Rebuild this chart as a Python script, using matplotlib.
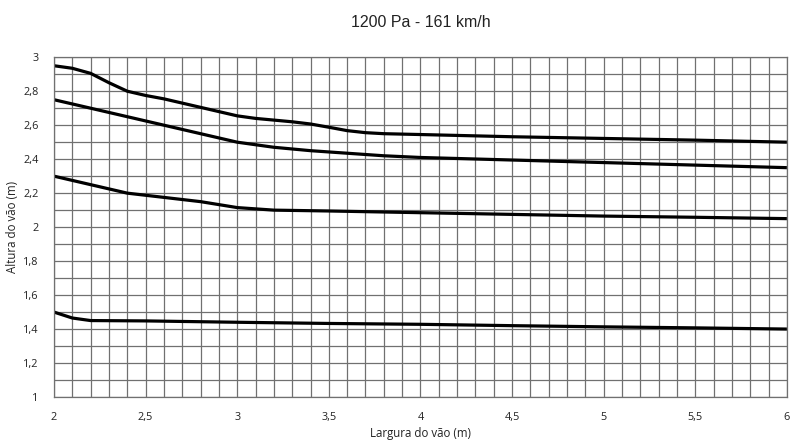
import matplotlib
matplotlib.use("Agg")
import matplotlib.pyplot as plt
import numpy as np

plt.rcParams['font.family'] = ['Open Sans', 'DejaVu Sans']

title = "1200 Pa - 161 km/h"
xlabel = "Largura do vão (m)"
ylabel = "Altura do vão (m)"

x_top = [2.0, 2.1, 2.2, 2.3, 2.4, 2.5, 2.6, 2.7, 2.8, 2.9, 3.0, 3.1, 3.2, 3.3, 3.4, 3.5, 3.6, 3.7, 3.8, 4.0, 4.5, 5.0, 5.5, 6.0]
y_top = [2.95, 2.935, 2.905, 2.85, 2.80, 2.775, 2.755, 2.73, 2.705, 2.68, 2.655, 2.64, 2.63, 2.62, 2.607, 2.588, 2.568, 2.556, 2.55, 2.545, 2.532, 2.522, 2.512, 2.50]

x_mid = [2.0, 2.2, 2.4, 2.6, 2.8, 3.0, 3.2, 3.4, 3.6, 3.8, 4.0, 4.5, 5.0, 5.5, 6.0]
y_mid = [2.75, 2.70, 2.65, 2.60, 2.55, 2.50, 2.47, 2.45, 2.435, 2.42, 2.41, 2.395, 2.38, 2.365, 2.35]

x_low = [2.0, 2.2, 2.4, 2.6, 2.8, 3.0, 3.2, 3.5, 4.0, 4.5, 5.0, 5.5, 6.0]
y_low = [2.30, 2.25, 2.20, 2.175, 2.15, 2.115, 2.10, 2.095, 2.085, 2.075, 2.065, 2.058, 2.05]

x_bot = [2.0, 2.1, 2.2, 2.5, 3.0, 3.5, 4.0, 4.5, 5.0, 5.5, 6.0]
y_bot = [1.50, 1.465, 1.45, 1.448, 1.44, 1.433, 1.428, 1.42, 1.413, 1.407, 1.40]

xticks = [2, 2.5, 3, 3.5, 4, 4.5, 5, 5.5, 6]
xticklabels = ["2", "2,5", "3", "3,5", "4", "4,5", "5", "5,5", "6"]
yticks = [1, 1.2, 1.4, 1.6, 1.8, 2, 2.2, 2.4, 2.6, 2.8, 3]
yticklabels = ["1", "1,2", "1,4", "1,6", "1,8", "2", "2,2", "2,4", "2,6", "2,8", "3"]

fig = plt.figure(figsize=(8.01, 4.43), dpi=100)
ax = fig.add_axes([0.0674, 0.1038, 0.915, 0.767])

ax.set_xlim(2, 6)
ax.set_ylim(1, 3)
ax.set_xticks(np.arange(2, 6.001, 0.1), minor=True)
ax.set_yticks(np.arange(1, 3.001, 0.1), minor=True)
ax.set_xticks(xticks)
ax.set_xticklabels(xticklabels)
ax.set_yticks(yticks)
ax.set_yticklabels(yticklabels)
ax.grid(True, which='both', color='#707070', linewidth=0.9)
ax.set_axisbelow(True)
for s in ax.spines.values():
    s.set_color('#707070')
    s.set_linewidth(0.9)
ax.tick_params(which='both', length=0, labelsize=7.8, colors='#222222')
ax.tick_params(axis='x', pad=11)
ax.tick_params(axis='y', pad=11)

for xs, ys in [(x_top, y_top), (x_mid, y_mid), (x_low, y_low), (x_bot, y_bot)]:
    ax.plot(xs, ys, color='black', linewidth=2.3, solid_joinstyle='round', solid_capstyle='butt')

ax.set_xlabel(xlabel, fontsize=8.3, labelpad=3, color='#222222')
fig.text(13 / 801, 1 - 227 / 443, ylabel, rotation=90, ha='center', va='center',
         fontsize=8.3, color='#222222')
fig.text(0.525, 0.95, title, ha='center', va='center', fontsize=11.5, color='#222222',
         family=['Liberation Sans', 'DejaVu Sans'])

fig.savefig("out.png", dpi=100)
